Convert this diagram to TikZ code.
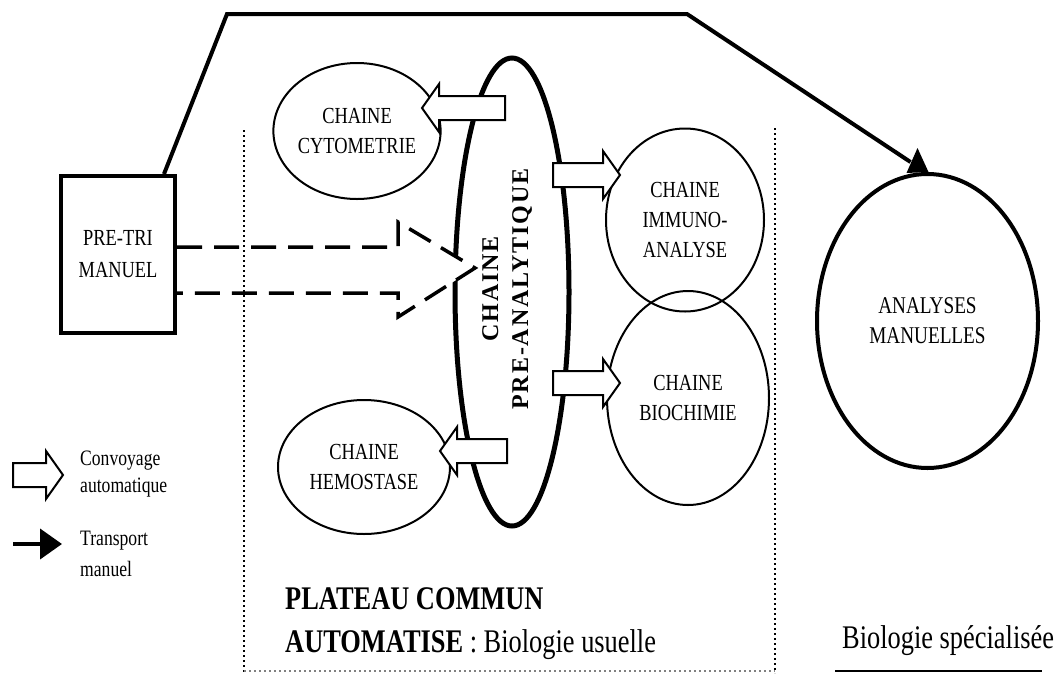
\documentclass[tikz,border=0pt]{standalone}
\usepackage{fontspec}
\setmainfont{Liberation Serif}[FakeStretch=0.8]
\newfontfamily\spacedfont{Liberation Serif}[LetterSpace=8]
\usetikzlibrary{shapes.geometric,arrows.meta}

\begin{document}
\begin{tikzpicture}[x=1pt, y=-1pt,
    chainnode/.style={draw, ellipse, line width=2, inner sep=0, align=center, font=\fontsize{23}{30}\selectfont},
    convoy/.style={draw, line width=2, fill=white, line join=miter},
    zone/.style={line width=2, dash pattern=on 2pt off 3pt}]
    \useasboundingbox (0,0) rectangle (1061,673);

    % zones
    \draw[zone] (244,130) -- (244,673);
    \draw[zone] (775,128) -- (775,673);
    \draw[zone, gray] (244,671) -- (775,671);

    \node[draw, line width=4, minimum width=114, minimum height=157, align=center,
          font=\fontsize{23}{32}\selectfont] (pretri) at (118,254.5) {PRE-TRI\\MANUEL};
    \node[draw, ellipse, line width=5, minimum width=114, minimum height=468] (prean) at (512,292) {};
    \node[rotate=90, align=center, font=\spacedfont\bfseries\fontsize{24}{30}\selectfont] (preantext)
          at ([xshift=-5pt,yshift=3pt]prean.center) {CHAINE\\PRE-ANALYTIQUE};

    \node[chainnode, minimum width=158, minimum height=136] (cyto) at (357,131) {CHAINE\\CYTOMETRIE};
    \node[chainnode, minimum width=172, minimum height=134] (hemo) at (364,467) {CHAINE\\HEMOSTASE};
    \node[chainnode, minimum width=158, minimum height=183] (immuno) at (685,220) {CHAINE\\IMMUNO-\\ANALYSE};
    \node[chainnode, minimum width=162, minimum height=214] (biochim) at (688,398) {CHAINE\\BIOCHIMIE};
    \node[chainnode, line width=4, minimum width=221, minimum height=294,
          font=\fontsize{24}{30}\selectfont] (manu) at (927.5,321) {ANALYSES\\MANUELLES};

    % transport manuel vers analyses manuelles
    \coordinate (mtip) at ([xshift=-10pt]manu.north);
    \draw[line width=4, line join=miter] ([xshift=-13pt]pretri.north east) -- (227,14) -- (687,14)
        -- ([xshift=-7pt,yshift=10pt]mtip);
    \fill ([xshift=-11pt,yshift=-1pt]mtip) -- ([xshift=11pt]mtip) -- ([yshift=24pt]mtip) -- cycle;

    % pre-tri vers chaine (pointilles)
    \filldraw[fill=white, line width=3.5, dash pattern=on 25pt off 12pt]
        (pretri.east |- 0,247) -- (398,247) -- (398,222) -- (475,268) -- (398,317) -- (398,293)
        -- (pretri.east |- 0,293);
    \draw[zone] (244,200) -- (244,340);

    % convoyage
    \foreach \xa/\xb/\yc in {505/422/108, 553/620/175, 553/620/383, 507/440/451, 13/63/475} {
        \pgfmathsetmacro\dir{ifthenelse(\xb>\xa,1,-1)}
        \draw[convoy] (\xa,\yc-12) -- ({\xb-17*\dir},\yc-12) -- ({\xb-17*\dir},\yc-24) -- (\xb,\yc)
            -- ({\xb-17*\dir},\yc+24) -- ({\xb-17*\dir},\yc+12) -- (\xa,\yc+12) -- cycle;
    }

    % legende
    \node[anchor=base west, align=left, inner sep=0, font=\fontsize{22}{27}\selectfont] (convtext)
        at (80,492) {Convoyage\\automatique};
    \draw[line width=4, -{Triangle[length=22pt,width=30pt]}] (13,544) -- (62,544);
    \node[anchor=base west, align=left, inner sep=0, font=\fontsize{22}{31}\selectfont] (transtext)
        at (80,576) {Transport\\manuel};

    \node[anchor=base west, align=left, inner sep=0, font=\fontsize{33}{43}\selectfont] (plateau)
        at (285,652) {\textbf{PLATEAU COMMUN}\\\textbf{AUTOMATISE} : Biologie usuelle};
    \node[anchor=base west, inner sep=0, font=\fontsize{33}{42}\selectfont] (biospec)
        at (842,648) {Biologie spécialisée};
    \draw[line width=2] (835,671) -- (1042,671);
\end{tikzpicture}
\end{document}
